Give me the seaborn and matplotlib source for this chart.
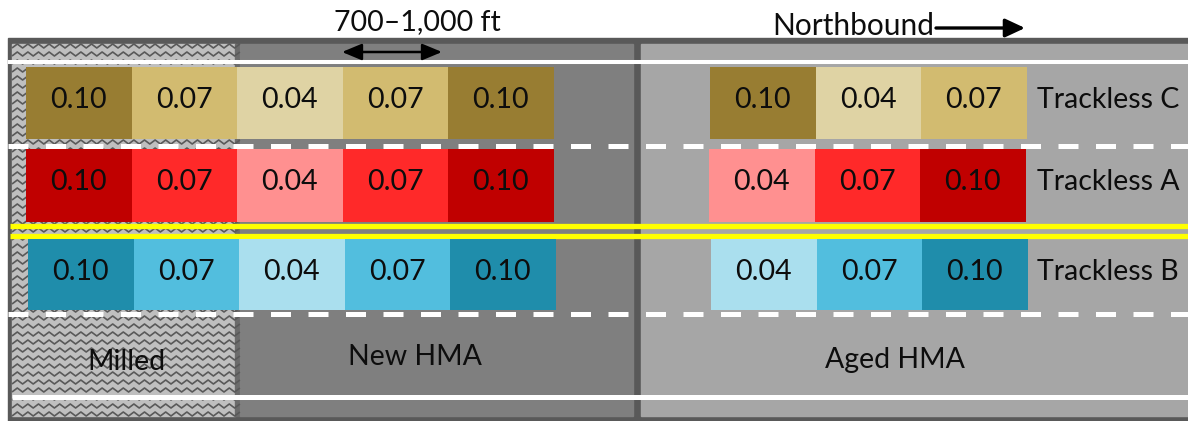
import numpy as np
import seaborn as sns
import matplotlib.pyplot as plt
from matplotlib.patches import Rectangle, FancyArrowPatch
from matplotlib.collections import LineCollection

# lane names, top to bottom
lane_names = ['Trackless C', 'Trackless A', 'Trackless B']

# application rates per segment (new HMA side, then aged HMA side)
trackless_c_new = [0.10, 0.07, 0.04, 0.07, 0.10]
trackless_a_new = [0.10, 0.07, 0.04, 0.07, 0.10]
trackless_b_new = [0.10, 0.07, 0.04, 0.07, 0.10]
trackless_c_aged = [0.10, 0.04, 0.07]
trackless_a_aged = [0.04, 0.07, 0.10]
trackless_b_aged = [0.04, 0.07, 0.10]

rates = [0.04, 0.07, 0.10]
section_labels = ['Milled', 'New HMA', 'Aged HMA']
span_label = '700–1,000 ft'
direction_label = 'Northbound'

# colour per rate (light -> dark) for each lane
gold = ['#DFD3A4', '#D2BB70', '#987D32']
red = ['#FF9090', '#FF2929', '#C00000']
blue = ['#AADFEE', '#52BEDE', '#1F8DAB']

sns.set_theme(style='white')
plt.rcParams['font.family'] = ['Lato', 'DejaVu Sans']
plt.rcParams['lines.scale_dashes'] = False

W, H = 1188, 421
fig = plt.figure(figsize=(W / 100, H / 100), dpi=100)
ax = fig.add_axes([0, 0, 1, 1])
ax.set_xlim(0, W)
ax.set_ylim(H, 0)
ax.axis('off')

border = '#595959'
# pavement frame and sections
ax.add_patch(Rectangle((8, 38), W, 400, color=border, zorder=0))
milled = Rectangle((12, 44), 223, 372, color='#BFBFBF', zorder=1)
ax.add_patch(milled)
ax.add_patch(Rectangle((235, 44), 5, 372, color='#6B6B6B', zorder=1))
ax.add_patch(Rectangle((240, 44), 393, 372, color='#7F7F7F', zorder=1))
ax.add_patch(Rectangle((641, 44), W - 641, 372, color='#A6A6A6', zorder=1))

# zigzag texture on the milled strip
segs = []
xs = np.arange(12, 240, 5.3)
for y0 in np.arange(46, 418, 8):
    ys = y0 + np.where(np.arange(len(xs)) % 2 == 0, 2, -2)
    segs.append(np.column_stack([xs, ys]))
zz = LineCollection(segs, colors=border, linewidths=1.2, zorder=2)
zz.set_clip_path(milled)
ax.add_collection(zz)

# lane markings
ax.plot([8, W], [62, 62], color='white', lw=2.9, solid_capstyle='butt', zorder=3)
ax.plot([12, W], [397, 397], color='white', lw=3.6, solid_capstyle='butt', zorder=3)
for yd in [145.5, 313.5]:
    ax.plot([8, W], [yd, yd], color='white', lw=3.6, dash_capstyle='butt',
            linestyle=(0, (14.4, 12.6)), zorder=3)
for yy in [225.5, 236]:
    ax.plot([10, W], [yy, yy], color='#FFFF00', lw=3.8, solid_capstyle='butt', zorder=3)

# lane cells
cell_w = 105.5
lanes = [
    (trackless_c_new, trackless_c_aged, gold, 67, 139, 26, 710),
    (trackless_a_new, trackless_a_aged, red, 149, 222, 26, 709),
    (trackless_b_new, trackless_b_aged, blue, 239, 310, 28, 711),
]
for name, (new_v, aged_v, pal, top, bot, x_new, x_aged) in zip(lane_names, lanes):
    for vals, x0 in [(new_v, x_new), (aged_v, x_aged)]:
        lefts = x0 + cell_w * np.arange(len(vals))
        cols = [pal[rates.index(v)] for v in vals]
        ax.bar(lefts, bot - top, bottom=top, width=cell_w, align='edge',
               color=cols, linewidth=0, zorder=4)
        for xl, v in zip(lefts, vals):
            ax.text(xl + cell_w / 2, (top + bot) / 2 + 5, f'{v:.2f}', ha='center',
                    va='baseline', fontsize=20.5, color='#0D0D0D', zorder=5)
    ax.text(1037, (top + bot) / 2 + 5, name, ha='left', va='baseline',
            fontsize=20.5, color='#0D0D0D', zorder=5)

# section labels
for lab, xc, yb in zip(section_labels, [126, 415, 895], [370, 365, 368]):
    ax.text(xc, yb, lab, ha='center', va='baseline', fontsize=20.5,
            color='#0D0D0D', zorder=5)

# segment length annotation
ax.text(417, 30, span_label, ha='center', va='baseline', fontsize=20.5, color='#0D0D0D')
ax.add_patch(FancyArrowPatch((342, 52), (442, 52),
                             arrowstyle='<|-|>,head_length=0.6,head_width=0.25',
                             mutation_scale=20, color='black', lw=1.8,
                             shrinkA=0, shrinkB=0, zorder=6))

# direction
ax.text(772, 35, direction_label, ha='left', va='baseline', fontsize=21.5, color='#0D0D0D')
ax.add_patch(FancyArrowPatch((936, 28), (1025, 28),
                             arrowstyle='-|>,head_length=0.6,head_width=0.28',
                             mutation_scale=20, color='black', lw=2.4,
                             shrinkA=0, shrinkB=0, zorder=6))

fig.savefig('out.png', dpi=100)
